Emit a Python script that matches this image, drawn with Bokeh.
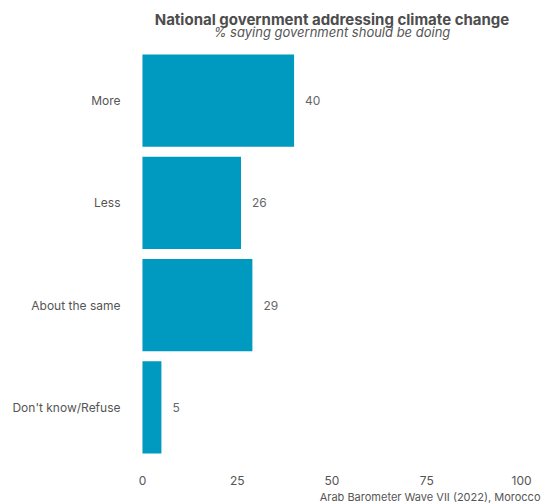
from bokeh.plotting import figure
from bokeh.models import ColumnDataSource, FactorRange, Range1d, Title, FixedTicker
from bokeh.core.properties import value
from bokeh.embed import file_html
from bokeh.resources import INLINE

categories = ["More", "Less", "About the same", "Don't know/Refuse"]
values = [40, 26, 29, 5]
x_ticks = [0, 25, 50, 75, 100]

title_text = "National government addressing climate change"
subtitle_text = "% saying government should be doing"
caption_text = "Arab Barometer Wave VII (2022), Morocco"

FONT = "Inter"
BAR = "#0099C0"
TXT = "#555555"
X_MIN, X_MAX = -5, 105

src = ColumnDataSource(dict(cat=categories, val=values, lab=[str(v) for v in values]))

p = figure(width=543, height=503, title=None,
           y_range=FactorRange(factors=categories[::-1]),
           x_range=Range1d(X_MIN, X_MAX),
           output_backend="svg", toolbar_location=None,
           min_border_left=123, min_border_right=3,
           min_border_top=49, min_border_bottom=45)

p.hbar(y="cat", right="val", left=0, height=0.9, source=src,
       fill_color=BAR, line_color=None)
p.text(x="val", y="cat", text="lab", source=src, x_offset=11,
       text_align="left", text_baseline="middle",
       text_font=value(FONT), text_font_size="12px", text_color="#666666")

p.outline_line_color = None
p.xgrid.grid_line_color = None
p.ygrid.grid_line_color = None
p.background_fill_color = "white"
p.border_fill_color = "white"

for ax in (p.xaxis[0], p.yaxis[0]):
    ax.axis_line_color = None
    ax.major_tick_line_color = None
    ax.minor_tick_line_color = None
    ax.major_tick_out = 0
    ax.major_tick_in = 0
    ax.major_label_text_font = FONT
    ax.major_label_text_font_size = "12px"
    ax.major_label_text_color = TXT

p.xaxis[0].ticker = FixedTicker(ticks=x_ticks)
p.xaxis[0].major_label_standoff = 17
p.yaxis[0].major_label_standoff = 3

p.add_layout(Title(text=subtitle_text, align="center", text_font=FONT,
                   text_font_size="13px", text_font_style="italic",
                   text_color="#555555", offset=0, standoff=20), "above")
p.add_layout(Title(text=title_text, align="center", text_font=FONT,
                   text_font_size="15px", text_font_style="bold",
                   text_color="#4d4d4d", offset=0, standoff=-34), "above")
p.add_layout(Title(text=caption_text, align="right", text_font=FONT,
                   text_font_size="11px", text_font_style="normal",
                   text_color="#555555", offset=0, standoff=0), "below")

open("out.html", "w").write(file_html(p, INLINE))
